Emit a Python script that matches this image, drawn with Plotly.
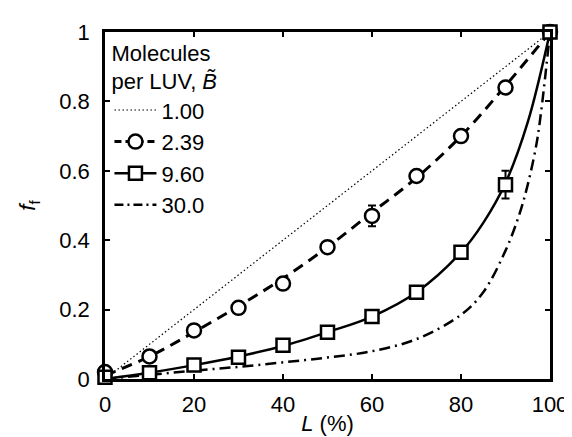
import plotly.graph_objects as go

# ---- data ----
L_pts = [0, 10, 20, 30, 40, 50, 60, 70, 80, 90, 100]
f_239 = [0.02, 0.065, 0.14, 0.205, 0.275, 0.38, 0.47, 0.585, 0.70, 0.84, 1.0]
err_239 = [0, 0, 0, 0, 0, 0, 0.03, 0, 0, 0.015, 0]
f_960 = [0.005, 0.018, 0.04, 0.063, 0.097, 0.135, 0.18, 0.25, 0.365, 0.56, 1.0]
err_960 = [0, 0, 0, 0, 0, 0, 0, 0, 0, 0.04, 0]

# model curves
L_100 = [0, 100]
f_100 = [0, 1]
L_239c = [0, 10, 20, 30, 40, 50, 60, 70, 80, 90, 100]
f_239c = [0.01, 0.065, 0.135, 0.21, 0.29, 0.38, 0.48, 0.58, 0.70, 0.845, 1.0]
L_960c = [0, 10, 20, 30, 40, 50, 60, 70, 80, 85, 90, 95, 100]
f_960c = [0, 0.018, 0.04, 0.065, 0.095, 0.135, 0.18, 0.25, 0.365, 0.45, 0.565, 0.74, 1.0]
L_30c = [0, 10, 20, 30, 40, 50, 60, 70, 80, 85, 90, 93, 95, 97, 98, 99, 100]
f_30c = [0, 0.012, 0.024, 0.035, 0.048, 0.062, 0.08, 0.115, 0.185, 0.25, 0.37, 0.47, 0.56, 0.68, 0.77, 0.88, 1.0]

legend_labels = ["1.00", "2.39", "9.60", "30.0"]

FONT = "Liberation Sans, Arial, sans-serif"
FS = 22

DOT = "1.5px,2.5px"
DASH = "11px,7px"
DASHDOT = "11px,5px,2px,5px"

circ = dict(symbol="circle", size=14, color="white", line=dict(color="black", width=2.5))
sq = dict(symbol="square", size=13, color="white", line=dict(color="black", width=2.5))

fig = go.Figure()

# drawn marks (not in legend)
fig.add_trace(go.Scatter(x=L_100, y=f_100, mode="lines", showlegend=False,
                         line=dict(color="black", width=1.2, dash=DOT)))
fig.add_trace(go.Scatter(x=L_239c, y=f_239c, mode="lines", showlegend=False,
                         line=dict(color="black", width=3, dash=DASH, shape="spline")))
fig.add_trace(go.Scatter(x=L_960c, y=f_960c, mode="lines", showlegend=False,
                         line=dict(color="black", width=2.5, shape="spline")))
fig.add_trace(go.Scatter(x=L_30c, y=f_30c, mode="lines", showlegend=False,
                         line=dict(color="black", width=2.5, dash=DASHDOT, shape="spline")))
fig.add_trace(go.Scatter(x=L_pts, y=f_239, mode="markers", showlegend=False, marker=circ,
                         error_y=dict(type="data", array=err_239, visible=True,
                                      color="black", thickness=2, width=4),
                         cliponaxis=False))
fig.add_trace(go.Scatter(x=L_pts, y=f_960, mode="markers", showlegend=False, marker=sq,
                         error_y=dict(type="data", array=err_960, visible=True,
                                      color="black", thickness=2, width=4),
                         cliponaxis=False))

# legend-only entries
fig.add_trace(go.Scatter(x=[None], y=[None], mode="lines", name=legend_labels[0],
                         line=dict(color="black", width=1.2, dash=DOT)))
fig.add_trace(go.Scatter(x=[None], y=[None], mode="lines+markers", name=legend_labels[1],
                         line=dict(color="black", width=3, dash="7px,4px"), marker=circ))
fig.add_trace(go.Scatter(x=[None], y=[None], mode="lines+markers", name=legend_labels[2],
                         line=dict(color="black", width=2.5), marker=sq))
fig.add_trace(go.Scatter(x=[None], y=[None], mode="lines", name=legend_labels[3],
                         line=dict(color="black", width=2.5, dash="9px,4px,2px,4px")))

axis_common = dict(showline=True, linecolor="black", linewidth=2.5, mirror="ticks",
                   ticks="inside", ticklen=5, tickwidth=2, tickcolor="black",
                   showgrid=False, zeroline=False,
                   tickfont=dict(family=FONT, size=FS, color="black"))

fig.update_xaxes(range=[0, 100], tickvals=[0, 20, 40, 60, 80, 100],
                 ticklabelstandoff=4,
                 title=dict(text="<i>L</i> (%)", font=dict(family=FONT, size=FS, color="black"),
                            standoff=0),
                 **axis_common)
fig.update_yaxes(range=[0, 1], tickvals=[0, 0.2, 0.4, 0.6, 0.8, 1],
                 ticktext=["0", "0.2", "0.4", "0.6", "0.8", "1"],
                 ticklabelstandoff=8,
                 title=dict(text="<i>f</i><sub>f</sub>", font=dict(family=FONT, size=FS, color="black"),
                            standoff=18),
                 **axis_common)

fig.update_layout(
    width=572, height=437,
    margin=dict(l=97, r=20, t=21, b=56),
    paper_bgcolor="white", plot_bgcolor="white",
    showlegend=True,
    legend=dict(x=0.01, y=1.0, xanchor="left", yanchor="top",
                bgcolor="rgba(0,0,0,0)", borderwidth=0,
                font=dict(family=FONT, size=FS, color="black"),
                title=dict(text="Molecules<br>per LUV, <i>B\u0303</i>",
                           font=dict(family=FONT, size=FS, color="black"), side="top"),
                itemwidth=42, tracegroupgap=0),
    font=dict(family=FONT, size=FS, color="black"),
)

fig.write_html("out.html")
